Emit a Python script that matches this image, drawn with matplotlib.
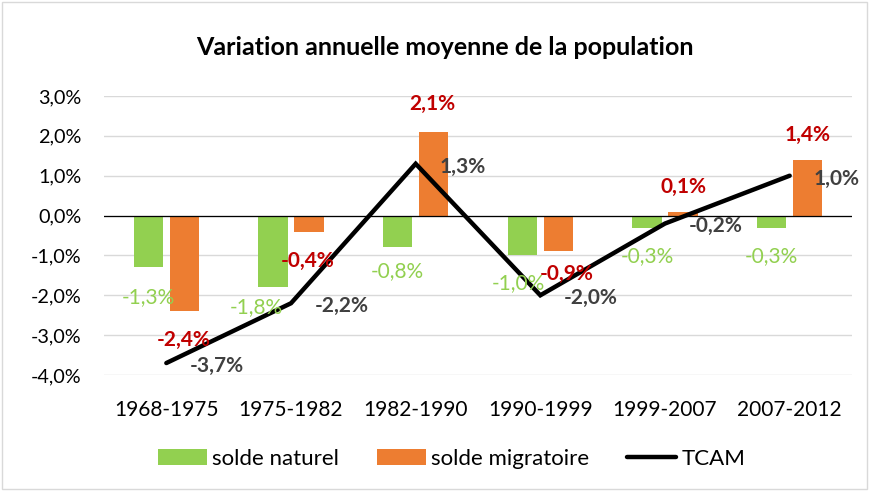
import numpy as np
import matplotlib.pyplot as plt
from matplotlib.patches import Rectangle
from matplotlib.ticker import FuncFormatter

plt.rcParams['font.family'] = ['Lato', 'DejaVu Sans']

periods = ['1968-1975', '1975-1982', '1982-1990', '1990-1999', '1999-2007', '2007-2012']
solde_naturel = [-1.3, -1.8, -0.8, -1.0, -0.3, -0.3]
solde_migratoire = [-2.4, -0.4, 2.1, -0.9, 0.1, 1.4]
tcam = [-3.7, -2.2, 1.3, -2.0, -0.2, 1.0]

# label offsets in pixels (dx, dy), hand placed like the original sheet
nat_offsets = [(0, -30), (-17, -20), (0, -24), (-4, -28), (0, -29), (0, -29)]
mig_offsets = [(-1, -29), (-1, -29), (-1, 28), (8, -23), (0, 25), (0, 25)]

GREEN = '#92D050'
ORANGE = '#ED7D31'
RED = '#C00000'
GREY = '#404040'


def fmt(v):
    return ('%.1f%%' % v).replace('.', ',')


fig = plt.figure(figsize=(8.7, 4.91), dpi=100)
ax = fig.add_axes([104 / 870, 1 - 375 / 491, (852 - 104) / 870, (375 - 96) / 491])

x = np.arange(len(periods))
w = 0.235
off = 0.145
b1 = ax.bar(x - off, solde_naturel, w, color=GREEN, label='solde naturel', zorder=2)
b2 = ax.bar(x + off, solde_migratoire, w, color=ORANGE, label='solde migratoire', zorder=2)
l1, = ax.plot(x, tcam, color='black', lw=3.2, label='TCAM', zorder=3,
              solid_capstyle='round', solid_joinstyle='miter')

ax.axhline(0, color='black', lw=0.9, zorder=2.5)

for i, v in enumerate(solde_naturel):
    dx, dy = nat_offsets[i]
    ax.annotate(fmt(v), (x[i] - off, v), xytext=(dx * 0.72, dy * 0.72),
                textcoords='offset points', ha='center', va='center',
                color=GREEN, fontsize=15, zorder=5)
for i, v in enumerate(solde_migratoire):
    dx, dy = mig_offsets[i]
    ax.annotate(fmt(v), (x[i] + off, v), xytext=(dx * 0.72, dy * 0.72),
                textcoords='offset points', ha='center', va='center',
                color=RED, fontsize=15, fontweight='bold', zorder=5)
for i, v in enumerate(tcam):
    ax.annotate(fmt(v), (x[i], v), xytext=(17, -2),
                textcoords='offset points', ha='left', va='center',
                color=GREY, fontsize=15, fontweight='bold', zorder=5)

ax.set_xlim(-0.5, len(periods) - 0.5)
ax.set_ylim(-4.0, 3.0)
ax.set_yticks(np.arange(-4, 3.01, 1))
ax.yaxis.set_major_formatter(FuncFormatter(lambda v, p: fmt(v)))
ax.set_xticks(x)
ax.set_xticklabels(periods)
ax.tick_params(length=0, colors='black')
ax.tick_params(axis='y', pad=16, labelsize=14.3)
ax.tick_params(axis='x', pad=18, labelsize=15)
ax.grid(axis='y', color='#D9D9D9', lw=1, zorder=0)
for s in ax.spines.values():
    s.set_visible(False)

fig.text(0.511, 0.904, 'Variation annuelle moyenne de la population',
         ha='center', va='center', fontsize=18, fontweight='bold')

fig.legend([b1, b2, l1], ['solde naturel', 'solde migratoire', 'TCAM'],
           loc='center', bbox_to_anchor=(0.519, 0.065), ncol=3, frameon=False,
           fontsize=16, handlelength=2.2, handleheight=0.75, columnspacing=1.7,
           handletextpad=0.25)

fig.patches.append(Rectangle((0.002, 0.004), 0.994, 0.992, transform=fig.transFigure,
                             fill=False, edgecolor='#D9D9D9', lw=1))

fig.savefig('out.png', dpi=100)
